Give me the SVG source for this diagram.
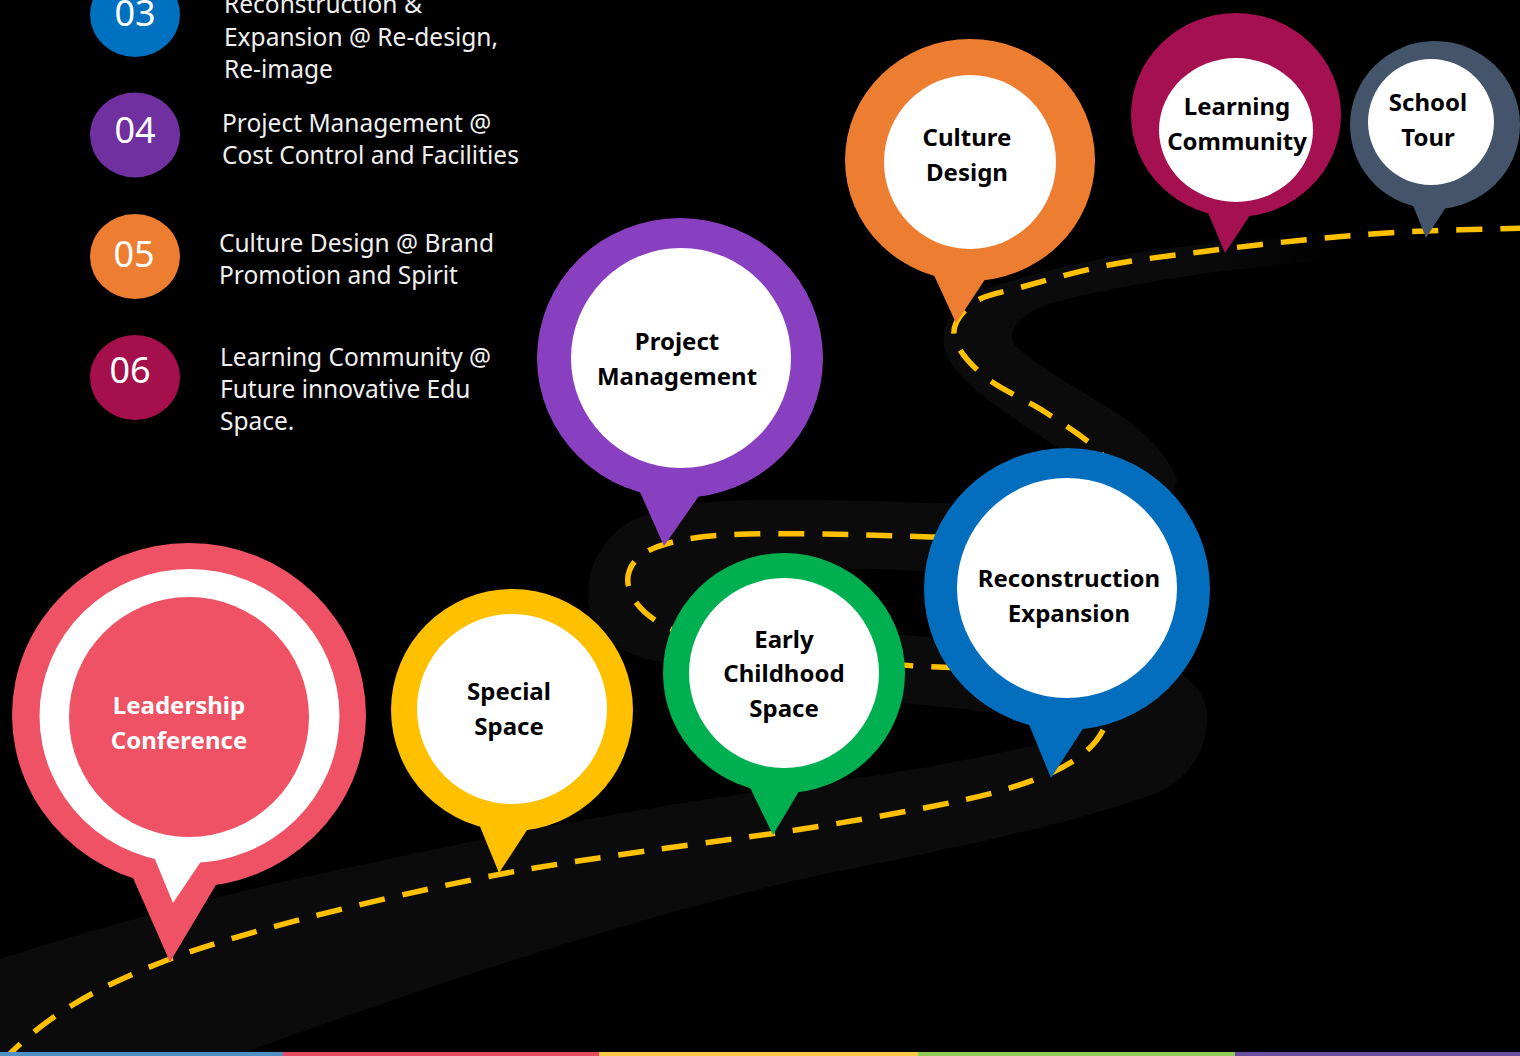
<svg xmlns="http://www.w3.org/2000/svg" width="1520" height="1056" viewBox="0 0 1520 1056">
<defs>
<style>
.road{fill:#0b0b0b}
.roadline{fill:none;stroke:#0b0b0b;stroke-width:68;stroke-linecap:round;stroke-linejoin:round}
.dash{fill:none;stroke:#FFC000;stroke-width:5.5;stroke-dasharray:26 18}
.lbl{font-family:"Noto Sans","Open Sans","Liberation Sans",sans-serif;font-weight:700;font-size:24px;text-anchor:middle;fill:#000}
.num{font-family:"Noto Sans","Open Sans","Liberation Sans",sans-serif;font-size:36px;fill:#fff;text-anchor:middle}
.desc{font-family:"Noto Sans","Open Sans","Liberation Sans",sans-serif;font-size:24.5px;fill:#f0f0f0}
.w{fill:#fff}
</style>
<linearGradient id="fadeR" gradientUnits="userSpaceOnUse" x1="1195" y1="0" x2="1340" y2="0">
<stop offset="0" stop-color="#0b0b0b" stop-opacity="1"/>
<stop offset="1" stop-color="#0b0b0b" stop-opacity="0"/>
</linearGradient>
</defs>
<rect x="0" y="0" width="1520" height="1056" fill="#000"/>

<g id="road">
<path class="road" d="M -10,962 C 60,940 150,912 291,880 C 420,852 600,812 793,787 C 880,776 960,762 1027,747 C 1060,739 1085,725 1100,705 L 1120,660 L 1172,668 C 1198,682 1210,702 1207,725 C 1205,755 1185,785 1143,798 C 1080,820 980,843 860,867 C 700,898 500,960 223,1060 L -10,1060 Z"/>
<path class="road" d="M 700,505 C 640,505 588,540 588,592 C 588,640 630,664 690,664 L 760,664 L 760,505 Z"/>
<path class="roadline" d="M 1150,705 C 1080,690 1000,677 915,670 C 830,662 740,648 690,636 C 620,615 605,560 666,544 C 700,533 760,531 931,537 C 1040,540 1120,530 1120,480"/>
<path fill="url(#fadeR)" d="M 1335,236 C 1250,238 1150,249 1100,259 C 1050,269 990,284 966,299 C 945,314 937,338 949,360 C 965,387 1012,418 1060,449 L 1100,480 L 1160,520 L 1172,500 L 1177,480 C 1168,455 1145,432 1117,413 C 1080,390 1035,365 1016,346 C 1002,330 1025,308 1067,299 C 1120,287 1200,270 1335,260 Z"/>
</g>

<g id="connectors">
<path class="dash" d="M 2,1062 C 50,1010 110,982 170,959 C 248,929 423,888 523,870 C 600,857 680,846 770,834 C 850,822 950,805 1000,791 C 1050,776 1090,760 1105,726 C 1113,708 1115,672 1050,670 C 1000,669 960,668 915,666 C 830,660 740,648 690,636 C 620,615 605,560 666,544 C 700,533 760,531 931,537 C 1040,540 1150,500 1096,448 C 1082.7,436.7 1063.7,424 1045,412 C 1026.3,400 999.2,388.8 984,376 C 968.8,363.2 955.5,347.3 954,335 C 952.5,322.7 963.7,310 975,302 C 986.3,294 999.7,293.2 1022,287 C 1044.3,280.8 1079.3,270.8 1109,265 C 1138.7,259.2 1167.5,256.2 1200,252 C 1232.5,247.8 1270,243.3 1304,240 C 1338,236.7 1366.3,234 1404,232 C 1441.7,230 1497.3,229 1530,228"/>
</g>

<g id="node-leadership">
<ellipse cx="189" cy="715" rx="177" ry="172" fill="#EE5264"/>
<polygon points="126,862 226,868 170,962" fill="#EE5264"/>
<ellipse class="w" cx="189.5" cy="716" rx="150" ry="147"/>
<polygon class="w" points="147,840 212,845 173,903"/>
<ellipse cx="189" cy="717" rx="120" ry="120" fill="#EE5264"/>
<text class="lbl" x="179" y="713.5" style="fill:#fff">Leadership</text>
<text class="lbl" x="179" y="748.5" style="fill:#fff">Conference</text>
</g>

<g id="node-special">
<ellipse cx="512" cy="710" rx="121" ry="121" fill="#FFC000"/>
<polygon points="472,807 540,810 499,873" fill="#FFC000"/>
<ellipse class="w" cx="512" cy="709" rx="95" ry="95"/>
<text class="lbl" x="509" y="699.5">Special</text>
<text class="lbl" x="509" y="734.5">Space</text>
</g>

<g id="node-early">
<ellipse cx="784" cy="673" rx="121" ry="120" fill="#00B050"/>
<polygon points="742,771 808,776 773,835" fill="#00B050"/>
<ellipse class="w" cx="784" cy="673" rx="95" ry="95"/>
<text class="lbl" x="784" y="647.5">Early</text>
<text class="lbl" x="784" y="681.5">Childhood</text>
<text class="lbl" x="784" y="716.5">Space</text>
</g>

<g id="node-project">
<ellipse cx="680" cy="358" rx="143" ry="140" fill="#8940C0"/>
<polygon points="632,474 710,480 664,546" fill="#8940C0"/>
<ellipse class="w" cx="681" cy="358" rx="110" ry="110"/>
<text class="lbl" x="677" y="349.5">Project</text>
<text class="lbl" x="677" y="384.5">Management</text>
</g>

<g id="node-reconstruction">
<ellipse cx="1067" cy="589" rx="143" ry="141" fill="#036EBE"/>
<polygon points="1021,705 1095,710 1051,778" fill="#036EBE"/>
<ellipse class="w" cx="1067" cy="588" rx="110" ry="110"/>
<text class="lbl" x="1069" y="586.5">Reconstruction</text>
<text class="lbl" x="1069" y="621.5">Expansion</text>
</g>

<g id="node-culture">
<ellipse cx="970" cy="160" rx="125" ry="121" fill="#ED7D31"/>
<polygon points="927,260 996,263 956,323" fill="#ED7D31"/>
<ellipse class="w" cx="970" cy="162" rx="86" ry="87"/>
<text class="lbl" x="967" y="145.5">Culture</text>
<text class="lbl" x="967" y="180.5">Design</text>
</g>

<g id="node-learning">
<ellipse cx="1236" cy="115" rx="105" ry="102" fill="#A41050"/>
<polygon points="1201,196 1260,200 1225,253" fill="#A41050"/>
<ellipse class="w" cx="1236" cy="130" rx="77" ry="72"/>
<text class="lbl" x="1237" y="114.5">Learning</text>
<text class="lbl" x="1237" y="149.5">Community</text>
</g>

<g id="node-school">
<ellipse cx="1435" cy="125" rx="85" ry="84" fill="#44546A"/>
<polygon points="1405,185 1457,190 1426,238" fill="#44546A"/>
<ellipse class="w" cx="1431" cy="122" rx="63" ry="63"/>
<text class="lbl" x="1428" y="110.5">School</text>
<text class="lbl" x="1428" y="145.5">Tour</text>
</g>

<g id="node-03">
<ellipse cx="135" cy="14.5" rx="45" ry="42.5" fill="#0070C0"/>
<text class="num" x="135" y="26">03</text>
<text class="desc" x="224" y="13">Reconstruction &amp;</text>
<text class="desc" x="224" y="46">Expansion @ Re-design,</text>
<text class="desc" x="224" y="78">Re-image</text>
</g>
<g id="node-04">
<ellipse cx="135" cy="135" rx="45" ry="42.5" fill="#7030A0"/>
<text class="num" x="135" y="143">04</text>
<text class="desc" x="222" y="132">Project Management @</text>
<text class="desc" x="222" y="164">Cost Control and Facilities</text>
</g>
<g id="node-05">
<ellipse cx="135" cy="256.5" rx="45" ry="42.5" fill="#ED7D31"/>
<text class="num" x="134" y="267">05</text>
<text class="desc" x="219" y="252">Culture Design @ Brand</text>
<text class="desc" x="219" y="284">Promotion and Spirit</text>
</g>
<g id="node-06">
<ellipse cx="135" cy="377.5" rx="45" ry="42.5" fill="#A50F4B"/>
<text class="num" x="130" y="383">06</text>
<text class="desc" x="220" y="366">Learning Community @</text>
<text class="desc" x="220" y="398">Future innovative Edu</text>
<text class="desc" x="220" y="430">Space.</text>
</g>

<g id="strip">
<rect x="0" y="1052" width="283" height="4" fill="#4F91C5"/>
<rect x="283" y="1052" width="316" height="4" fill="#E84A5F"/>
<rect x="599" y="1052" width="319" height="4" fill="#FFCB44"/>
<rect x="918" y="1052" width="317" height="4" fill="#8FCC55"/>
<rect x="1235" y="1052" width="285" height="4" fill="#6A4FA0"/>
</g>
</svg>
